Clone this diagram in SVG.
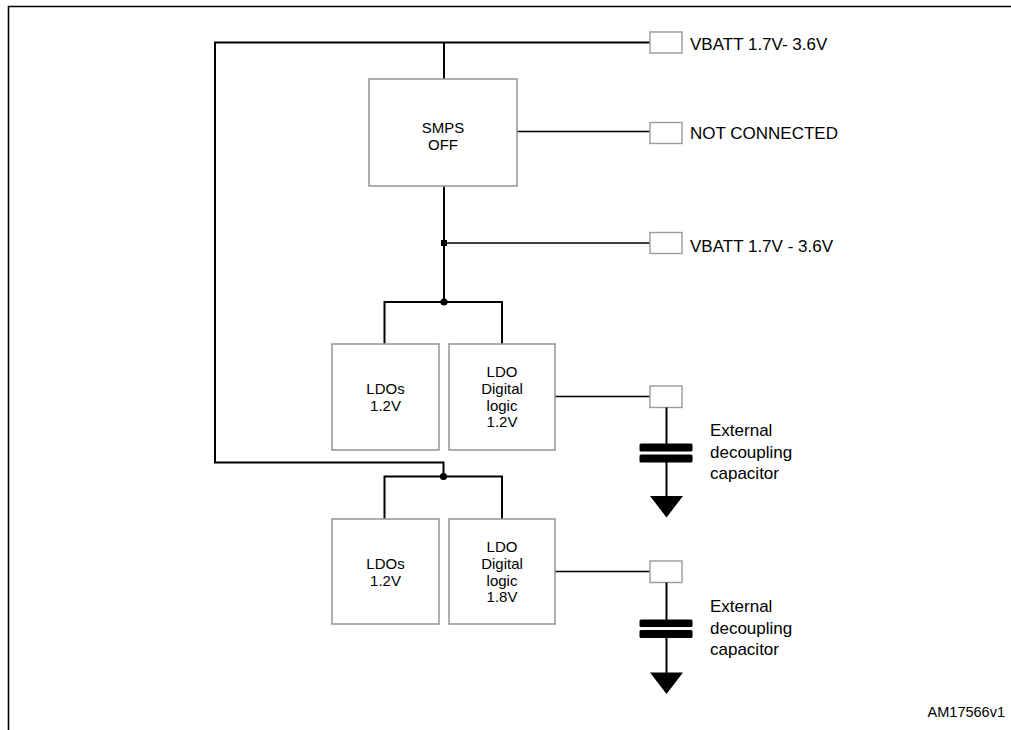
<svg xmlns="http://www.w3.org/2000/svg" width="1011" height="730" viewBox="0 0 1011 730">
<style>
.box{fill:#fff;stroke:#9a9a9a;stroke-width:1.6}
.pad{fill:#fff;stroke:#9a9a9a;stroke-width:1.4}
.w{fill:none;stroke:#000;stroke-width:2}
.wt{fill:none;stroke:#000;stroke-width:1.4}
.t{font-family:"Liberation Sans",Arial,sans-serif;fill:#000}
.n{font-size:15px;text-anchor:middle}
.l{font-size:17px}
</style>
<rect width="1011" height="730" fill="#fff"/>
<polyline points="8.5,730 8.5,6.5 1011,6.5" fill="none" stroke="#000" stroke-width="1.6"/>
<g id="connectors">
<polyline class="w" points="650,42.5 215,42.5 215,462.5 443.5,462.5 443.5,476.5"/>
<line class="w" x1="444" y1="42.5" x2="444" y2="79"/>
<line class="wt" x1="517" y1="131.5" x2="650" y2="131.5"/>
<line class="w" x1="444" y1="186" x2="444" y2="302"/>
<line class="wt" x1="444" y1="243" x2="650" y2="243"/>
<rect x="441" y="240" width="6" height="6" fill="#000"/>
<polyline class="w" points="384.5,344 384.5,302 502,302 502,344"/>
<circle cx="444" cy="302" r="3.6" fill="#000"/>
<polyline class="w" points="384.5,519 384.5,476.5 502,476.5 502,519"/>
<circle cx="443.5" cy="476.5" r="3.6" fill="#000"/>
<line class="wt" x1="555" y1="396.5" x2="650" y2="396.5"/>
<line class="wt" x1="555" y1="571.5" x2="650" y2="571.5"/>
</g>
<g id="smps">
<rect class="box" x="369" y="79" width="148" height="107"/>
<text class="t n" x="443" y="133">SMPS</text>
<text class="t n" x="443" y="150">OFF</text>
</g>
<g id="pad-vbatt1">
<rect class="pad" x="650" y="32" width="32" height="21"/>
<text class="t l" x="690" y="50">VBATT 1.7V- 3.6V</text>
</g>
<g id="pad-nc">
<rect class="pad" x="650" y="122.5" width="32" height="21"/>
<text class="t l" x="690" y="139">NOT CONNECTED</text>
</g>
<g id="pad-vbatt2">
<rect class="pad" x="650" y="232.5" width="32" height="21"/>
<text class="t l" x="690" y="252">VBATT 1.7V - 3.6V</text>
</g>
<g id="ldos1">
<rect class="box" x="332" y="344" width="107" height="106"/>
<text class="t n" x="385.5" y="394">LDOs</text>
<text class="t n" x="385.5" y="411">1.2V</text>
</g>
<g id="ldo-digital1">
<rect class="box" x="449" y="344" width="106" height="106"/>
<text class="t n" x="502" y="377">LDO</text>
<text class="t n" x="502" y="394">Digital</text>
<text class="t n" x="502" y="411">logic</text>
<text class="t n" x="502" y="427">1.2V</text>
</g>
<g id="ldos2">
<rect class="box" x="332" y="519" width="107" height="105"/>
<text class="t n" x="385.5" y="569">LDOs</text>
<text class="t n" x="385.5" y="586">1.2V</text>
</g>
<g id="ldo-digital2">
<rect class="box" x="449" y="519" width="106" height="105"/>
<text class="t n" x="502" y="552">LDO</text>
<text class="t n" x="502" y="569">Digital</text>
<text class="t n" x="502" y="586">logic</text>
<text class="t n" x="502" y="602">1.8V</text>
</g>
<g id="cap1">
<rect class="pad" x="650" y="386" width="32" height="21.5"/>
<line class="w" x1="666.5" y1="407.5" x2="666.5" y2="444"/>
<rect x="639.5" y="443.5" width="53" height="8" rx="1.5" fill="#000"/>
<rect x="639.5" y="454.5" width="53" height="8" rx="1.5" fill="#000"/>
<line class="w" x1="666.5" y1="462" x2="666.5" y2="497"/>
<polygon points="650,496 683,496 666.5,517.5" fill="#000"/>
<text class="t l" x="710" y="436">External</text>
<text class="t l" x="710" y="458">decoupling</text>
<text class="t l" x="710" y="479">capacitor</text>
</g>
<g id="cap2">
<rect class="pad" x="650" y="561" width="32" height="21.5"/>
<line class="w" x1="666.5" y1="582.5" x2="666.5" y2="620"/>
<rect x="639.5" y="619.5" width="53" height="7.5" rx="1.5" fill="#000"/>
<rect x="639.5" y="630" width="53" height="8" rx="1.5" fill="#000"/>
<line class="w" x1="666.5" y1="637" x2="666.5" y2="673"/>
<polygon points="650,672.5 683,672.5 666.5,694" fill="#000"/>
<text class="t l" x="710" y="612">External</text>
<text class="t l" x="710" y="634">decoupling</text>
<text class="t l" x="710" y="655">capacitor</text>
</g>
<text class="t" x="1005" y="717" font-size="14.5" text-anchor="end">AM17566v1</text>
</svg>
